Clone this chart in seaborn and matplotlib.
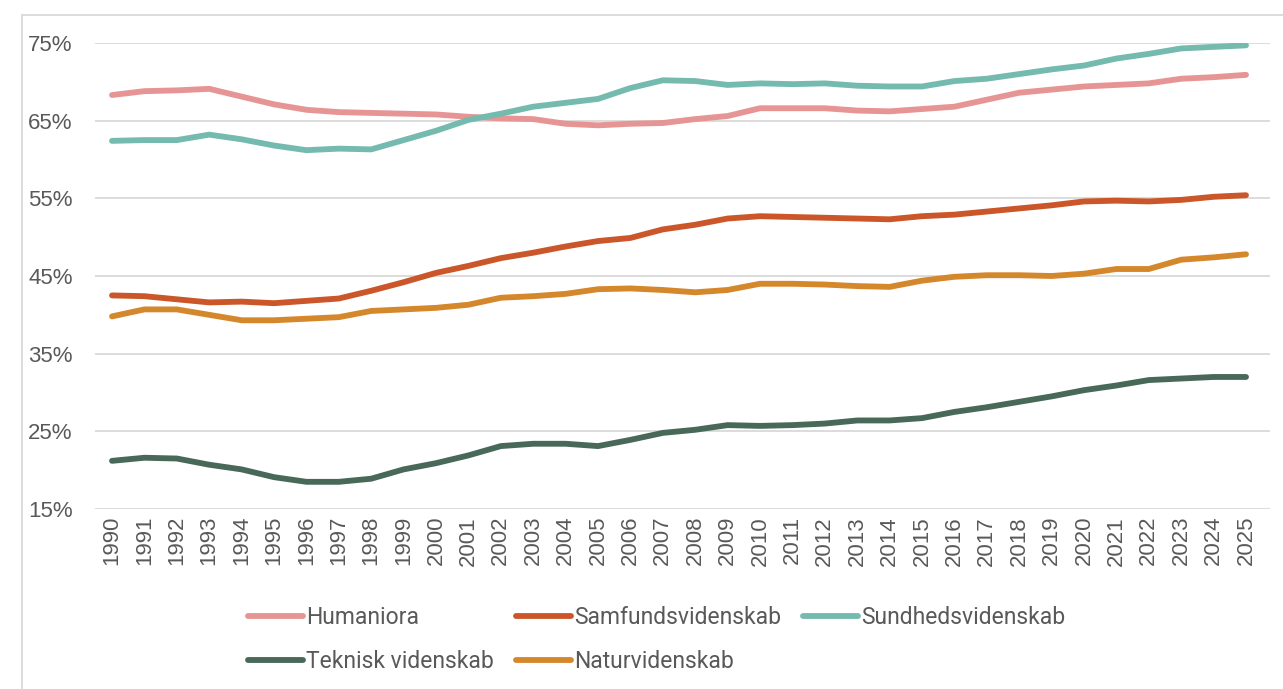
import numpy as np
import pandas as pd
import matplotlib
matplotlib.use("Agg")
import matplotlib.pyplot as plt
from matplotlib.patches import Rectangle
from matplotlib.ticker import FuncFormatter
import seaborn as sns

years = list(range(1990, 2026))

humaniora = [68.3, 68.8, 68.9, 69.1, 68.1, 67.1, 66.4, 66.1, 66.0, 65.9,
             65.8, 65.5, 65.3, 65.2, 64.6, 64.4, 64.6, 64.7, 65.2, 65.6,
             66.6, 66.6, 66.6, 66.3, 66.2, 66.5, 66.8, 67.7, 68.6, 69.0,
             69.4, 69.6, 69.8, 70.4, 70.6, 70.9]
samfund = [42.5, 42.4, 42.0, 41.6, 41.7, 41.5, 41.8, 42.1, 43.1, 44.2,
           45.4, 46.3, 47.3, 48.0, 48.8, 49.5, 49.9, 51.0, 51.6, 52.4,
           52.7, 52.6, 52.5, 52.4, 52.3, 52.7, 52.9, 53.3, 53.7, 54.1,
           54.6, 54.7, 54.6, 54.8, 55.2, 55.4]
sundhed = [62.4, 62.5, 62.5, 63.2, 62.6, 61.8, 61.2, 61.4, 61.3, 62.5,
           63.7, 65.1, 65.9, 66.8, 67.3, 67.8, 69.2, 70.2, 70.1, 69.6,
           69.8, 69.7, 69.8, 69.5, 69.4, 69.4, 70.1, 70.4, 71.0, 71.6,
           72.1, 73.0, 73.6, 74.3, 74.5, 74.7]
teknisk = [21.2, 21.6, 21.5, 20.7, 20.1, 19.1, 18.5, 18.5, 18.9, 20.1,
           20.9, 21.9, 23.1, 23.4, 23.4, 23.1, 23.9, 24.8, 25.2, 25.8,
           25.7, 25.8, 26.0, 26.4, 26.4, 26.7, 27.5, 28.1, 28.8, 29.5,
           30.3, 30.9, 31.6, 31.8, 32.0, 32.0]
natur = [39.8, 40.7, 40.7, 40.0, 39.3, 39.3, 39.5, 39.7, 40.5, 40.7,
         40.9, 41.3, 42.2, 42.4, 42.7, 43.3, 43.4, 43.2, 42.9, 43.2,
         44.0, 44.0, 43.9, 43.7, 43.6, 44.4, 44.9, 45.1, 45.1, 45.0,
         45.3, 45.9, 45.9, 47.1, 47.4, 47.8]

series_names = ["Humaniora", "Samfundsvidenskab", "Sundhedsvidenskab",
                "Teknisk videnskab", "Naturvidenskab"]
colors = ["#E69494", "#CB5629", "#74BAAE", "#486858", "#D4872B"]

df = pd.DataFrame({
    "year": years * 5,
    "value": humaniora + samfund + sundhed + teknisk + natur,
    "serie": np.repeat(series_names, len(years)),
})

sns.set_theme(style="white")
plt.rcParams["font.family"] = ["Liberation Sans", "DejaVu Sans"]

fig = plt.figure(figsize=(12.83, 6.89), dpi=100)
ax = fig.add_axes([95 / 1283, 1 - 509 / 689, 1175 / 1283, (509 - 43) / 689])

sns.lineplot(data=df, x="year", y="value", hue="serie", hue_order=series_names,
             palette=colors, linewidth=4.2, ax=ax, legend=True,
             solid_capstyle="round")

ax.set_xlim(1989.475, 2025.74)
ax.set_ylim(15, 75)
ax.set_yticks([15, 25, 35, 45, 55, 65, 75])
ax.yaxis.set_major_formatter(FuncFormatter(lambda v, p: f"{v:.0f}%"))
ax.set_xticks(years)
ax.set_xticklabels([str(y) for y in years], rotation=90)
ax.grid(axis="y", color="#d9d9d9", linewidth=1.3)
ax.set_axisbelow(True)
for s in ax.spines.values():
    s.set_visible(False)
ax.tick_params(axis="both", length=0, labelsize=16, colors="#595959")
ax.tick_params(axis="y", pad=16)
ax.tick_params(axis="x", pad=5)
ax.set_xlabel("")
ax.set_ylabel("")

# legend in two rows under the chart
handles, labels = ax.get_legend_handles_labels()
ax.get_legend().remove()
order = [0, 3, 1, 4, 2]
leg = fig.legend([handles[i] for i in order], [labels[i] for i in order],
                 ncol=3, loc="upper left", bbox_to_anchor=(227 / 1283, 1 - 585 / 689),
                 frameon=False, handlelength=2.4, handletextpad=0.15,
                 columnspacing=0.95, labelspacing=0.95,
                 prop={"family": ["Roboto", "DejaVu Sans"], "size": 16.5})
for t in leg.get_texts():
    t.set_color("#595959")
for h in leg.get_lines():
    h.set_linewidth(4.2)
    h.set_solid_capstyle("round")

fig.patches.append(Rectangle((22 / 1283, -0.1), 1.5, 1.1 - 15 / 689,
                             transform=fig.transFigure, fill=False,
                             edgecolor="#d9d9d9", linewidth=1.3))

fig.savefig("out.png", dpi=100)
